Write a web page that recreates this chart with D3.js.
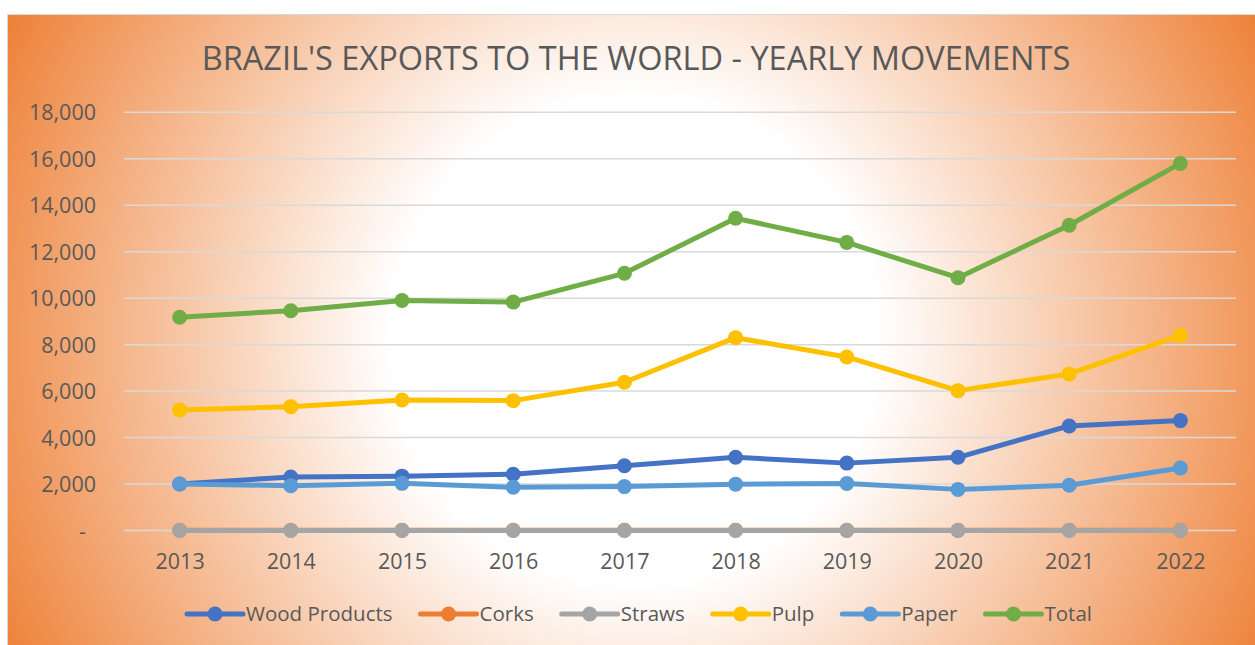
<!DOCTYPE html>
<html>
<head>
<meta charset="utf-8">
<script src="https://cdn.jsdelivr.net/npm/d3@7"></script>
<style>
  html, body { margin: 0; padding: 0; background: #ffffff; }
  svg { display: block; }
  text { font-family: "Open Sans", "Liberation Sans", sans-serif; }
</style>
</head>
<body>
<svg id="chart" width="1255" height="645"></svg>
<script>
// ---------- data ----------
const years = ["2013", "2014", "2015", "2016", "2017", "2018", "2019", "2020", "2021", "2022"];
const woodProducts = [2000, 2300, 2340, 2420, 2790, 3150, 2900, 3150, 4500, 4730];
const corks = [8, 8, 8, 8, 9, 10, 9, 8, 10, 11];
const straws = [3, 3, 3, 3, 3, 4, 4, 3, 4, 4];
const pulp = [5190, 5330, 5620, 5590, 6380, 8300, 7470, 6020, 6740, 8400];
const paper = [2000, 1930, 2030, 1860, 1890, 1995, 2020, 1770, 1945, 2690];
const total = [9180, 9460, 9900, 9830, 11070, 13440, 12400, 10880, 13140, 15800];
const yTicks = [0, 2000, 4000, 6000, 8000, 10000, 12000, 14000, 16000, 18000];
const title = "BRAZIL'S EXPORTS TO THE WORLD - YEARLY MOVEMENTS";

const series = [
  { name: "Wood Products", values: woodProducts, color: "#4472C4" },
  { name: "Corks", values: corks, color: "#ED7D31" },
  { name: "Straws", values: straws, color: "#A5A5A5" },
  { name: "Pulp", values: pulp, color: "#FFC000" },
  { name: "Paper", values: paper, color: "#5B9BD5" },
  { name: "Total", values: total, color: "#70AD47" }
];

// ---------- layout ----------
const svg = d3.select("#chart");
const frame = { x: 7, y: 14, w: 1260, h: 650 };
const plot = { left: 124, right: 1236, top: 112.3, bottom: 530.5 };

// background gradient
const defs = svg.append("defs");
const grad = defs.append("radialGradient")
  .attr("id", "bg")
  .attr("gradientUnits", "userSpaceOnUse")
  .attr("cx", 635).attr("cy", 340).attr("r", 720);
grad.append("stop").attr("offset", "0").attr("stop-color", "#ffffff");
grad.append("stop").attr("offset", "0.34").attr("stop-color", "#ffffff");
grad.append("stop").attr("offset", "1").attr("stop-color", "#ED7D31");

svg.append("rect")
  .attr("x", frame.x + 0.5).attr("y", frame.y + 0.5)
  .attr("width", frame.w).attr("height", frame.h)
  .attr("fill", "url(#bg)")
  .attr("stroke", "#D9D9D9").attr("stroke-width", 1);

// scales
const x = d3.scalePoint().domain(years).range([plot.left, plot.right]).padding(0.5);
const y = d3.scaleLinear().domain([0, 18000]).range([plot.bottom, plot.top]);

// gridlines
svg.append("g")
  .selectAll("line")
  .data(yTicks)
  .join("line")
  .attr("x1", plot.left).attr("x2", plot.right)
  .attr("y1", d => y(d)).attr("y2", d => y(d))
  .attr("stroke", "#D9D9D9").attr("stroke-width", 1.5);

// y axis labels
const yAxis = d3.axisLeft(y)
  .tickValues(yTicks)
  .tickSize(0)
  .tickPadding(0)
  .tickFormat(d => d === 0 ? "-" : d3.format(",")(d));
const gy = svg.append("g").attr("transform", "translate(96,0)").call(yAxis);
gy.select(".domain").remove();
gy.selectAll("text")
  .attr("fill", "#595959")
  .style("font-size", "21.5px")
  .attr("dy", "0.35em")
  .attr("x", d => d === 0 ? -10 : 0);

// x axis labels
const xAxis = d3.axisBottom(x).tickSize(0).tickPadding(0);
const gx = svg.append("g").attr("transform", `translate(0,${plot.bottom})`).call(xAxis);
gx.select(".domain").remove();
gx.selectAll("text")
  .attr("fill", "#595959")
  .style("font-size", "21.5px")
  .attr("y", 38).attr("dy", 0);

// lines
const line = d3.line().x((d, i) => x(years[i])).y(d => y(d));
series.forEach(s => {
  const g = svg.append("g");
  g.append("path")
    .attr("d", line(s.values))
    .attr("fill", "none")
    .attr("stroke", s.color)
    .attr("stroke-width", 5)
    .attr("stroke-linejoin", "round");
  g.selectAll("circle")
    .data(s.values)
    .join("circle")
    .attr("cx", (d, i) => x(years[i]))
    .attr("cy", d => y(d))
    .attr("r", 7.5)
    .attr("fill", s.color);
});

// title
svg.append("text")
  .attr("x", 636).attr("y", 69.5)
  .attr("text-anchor", "middle")
  .attr("fill", "#595959")
  .style("font-size", "32.5px")
  .text(title);

// legend
const legY = 614;
const legend = svg.append("g");
const items = [];
series.forEach(s => {
  const g = legend.append("g");
  g.append("line")
    .attr("x1", 0).attr("x2", 56)
    .attr("y1", 0).attr("y2", 0)
    .attr("stroke", s.color).attr("stroke-width", 5).attr("stroke-linecap", "round");
  g.append("circle").attr("cx", 28).attr("cy", 0).attr("r", 7.5).attr("fill", s.color);
  const t = g.append("text")
    .attr("x", 59).attr("y", 0).attr("dy", "0.35em")
    .attr("fill", "#595959")
    .style("font-size", "20.5px")
    .text(s.name);
  const w = 59 + t.node().getComputedTextLength();
  items.push({ g, w });
});
const gap = 28;
const totalW = d3.sum(items, d => d.w) + gap * (items.length - 1);
let lx = 639.5 - totalW / 2;
items.forEach(it => {
  it.g.attr("transform", `translate(${lx},${legY})`);
  lx += it.w + gap;
});
</script>
</body>
</html>
